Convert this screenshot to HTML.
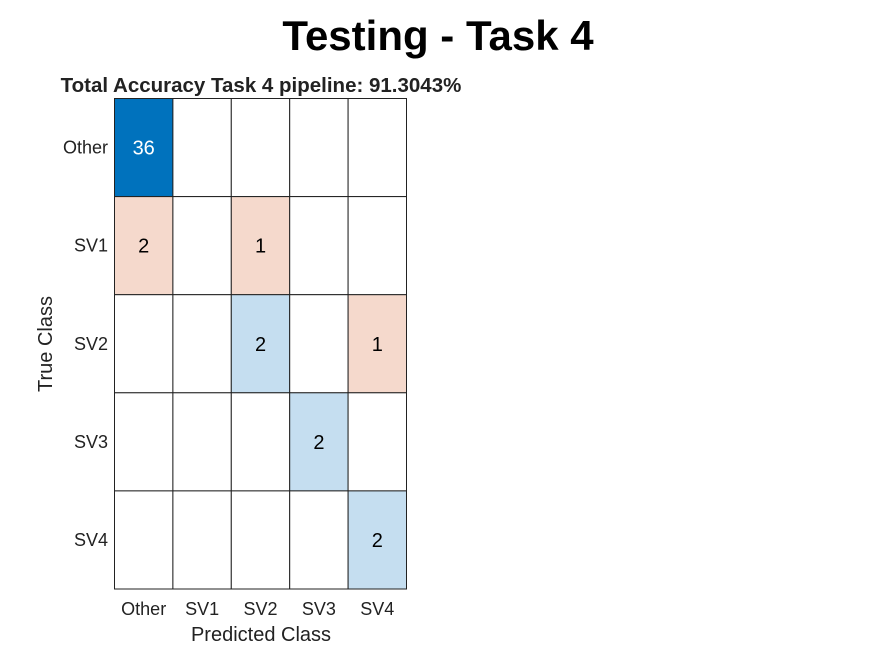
<!DOCTYPE html>
<html><head><meta charset="utf-8"><style>
body{margin:0;background:#fff;}
svg{display:block;font-family:"Liberation Sans",Arial,sans-serif;}
</style></head><body>
<svg id="c" width="875" height="656" viewBox="0 0 875 656">
<text x="438" y="50" text-anchor="middle" font-size="42" font-weight="bold" fill="#000">Testing - Task 4</text>
<text x="261" y="92" text-anchor="middle" font-size="20.5" font-weight="bold" fill="#222">Total Accuracy Task 4 pipeline: 91.3043%</text>
<g id="cells"></g>
<g id="labels"></g>
<text x="261" y="641" text-anchor="middle" font-size="20" fill="#222">Predicted Class</text>
<text transform="translate(52,344) rotate(-90)" text-anchor="middle" font-size="20" fill="#222">True Class</text>
</svg>
<script>
const classes=["Other","SV1","SV2","SV3","SV4"];
const counts=[[36,0,0,0,0],[2,0,1,0,0],[0,0,2,0,1],[0,0,0,2,0],[0,0,0,0,2]];
const L=114.5,T=98.5,W=292,H=490.5,n=classes.length;
const cw=W/n,ch=H/n;
const xPos=j=>L+j*cw, yPos=i=>T+i*ch;
const NS="http://www.w3.org/2000/svg";
const cells=document.getElementById('cells'),labels=document.getElementById('labels');
let maxDiag=0;for(let i=0;i<n;i++)maxDiag=Math.max(maxDiag,counts[i][i]);
for(let i=0;i<n;i++)for(let j=0;j<n;j++){
 const v=counts[i][j];let fill='#fff',tc='#000';
 if(v>0){
  if(i===j){fill=v>=maxDiag?'rgb(0,114,189)':'rgb(197,222,240)';if(v>=maxDiag)tc='#fff';}
  else{fill='rgb(245,217,204)';}
 }
 const r=document.createElementNS(NS,'rect');
 r.setAttribute('x',xPos(j));r.setAttribute('y',yPos(i));r.setAttribute('width',cw);r.setAttribute('height',ch);
 r.setAttribute('fill',fill);r.setAttribute('stroke','#222');r.setAttribute('stroke-width','1');
 
 
 cells.appendChild(r);
 if(v>0){const t=document.createElementNS(NS,'text');
  t.setAttribute('x',xPos(j)+cw/2);t.setAttribute('y',yPos(i)+ch/2+7);t.setAttribute('text-anchor','middle');
  t.setAttribute('font-size','20');t.setAttribute('fill',tc);t.textContent=v;
  
  
  cells.appendChild(t);}
}
classes.forEach((c,k)=>{
 const t=document.createElementNS(NS,'text');
 t.setAttribute('x',xPos(k)+cw/2);t.setAttribute('y',615);t.setAttribute('text-anchor','middle');t.setAttribute('font-size','18');t.setAttribute('fill','#222');t.textContent=c;
 
 
 labels.appendChild(t);
 const u=document.createElementNS(NS,'text');
 u.setAttribute('x',108);u.setAttribute('y',yPos(k)+ch/2+6);u.setAttribute('text-anchor','end');u.setAttribute('font-size','18');u.setAttribute('fill','#222');u.textContent=c;
 
 
 labels.appendChild(u);
});
</script>
</body></html>
